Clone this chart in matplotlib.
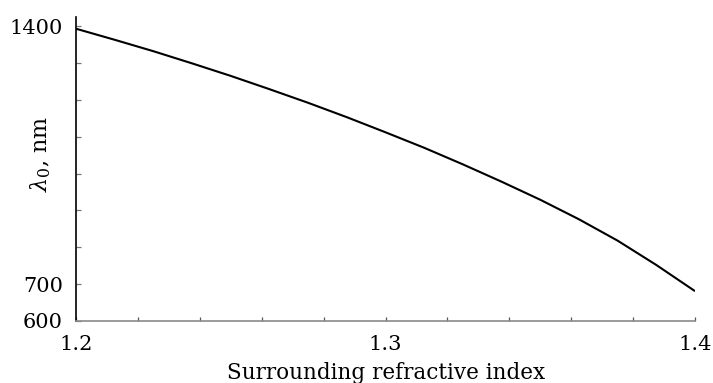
import matplotlib
matplotlib.use("Agg")
import matplotlib.pyplot as plt
from matplotlib.ticker import FixedLocator, NullFormatter

# Data
refr_index = [1.2, 1.2125, 1.225, 1.2375, 1.25, 1.2625, 1.275, 1.2875, 1.3,
              1.3125, 1.325, 1.3375, 1.35, 1.3625, 1.375, 1.3875, 1.4]
lambda0_nm = [1393, 1363, 1332, 1299, 1265, 1229, 1192, 1153, 1112,
              1070, 1025, 978, 929, 876, 818, 752, 681]

x_major = [1.2, 1.3, 1.4]
x_major_labels = ["1.2", "1.3", "1.4"]
x_minor = [1.22, 1.24, 1.26, 1.28, 1.32, 1.34, 1.36, 1.38]
y_major = [600, 700, 1400]
y_major_labels = ["600", "700", "1400"]
y_minor = [800, 900, 1000, 1100, 1200, 1300]

plt.rcParams['font.family'] = ['DejaVu Serif']
plt.rcParams['mathtext.fontset'] = 'dejavuserif'

W, H = 713, 383
fig = plt.figure(figsize=(W / 100, H / 100), dpi=100)
ax = fig.add_axes([76 / W, 1 - 321 / H, (695 - 76) / W, (321 - 17.3) / H])

ax.plot(refr_index, lambda0_nm, color='black', lw=1.5, solid_capstyle='butt')

ax.set_xlim(1.2, 1.4)
ax.set_ylim(600, 1424)

for s in ['top', 'right']:
    ax.spines[s].set_visible(False)
ax.spines['left'].set_color('black')
ax.spines['left'].set_linewidth(1.2)
ax.spines['bottom'].set_color('#8a8a8a')
ax.spines['bottom'].set_linewidth(1.2)

ax.xaxis.set_major_locator(FixedLocator(x_major))
ax.set_xticklabels(x_major_labels)
ax.xaxis.set_minor_locator(FixedLocator(x_minor))
ax.xaxis.set_minor_formatter(NullFormatter())
ax.yaxis.set_major_locator(FixedLocator(y_major))
ax.set_yticklabels(y_major_labels)
ax.yaxis.set_minor_locator(FixedLocator(y_minor))
ax.yaxis.set_minor_formatter(NullFormatter())

ax.tick_params(axis='x', which='both', direction='in', length=2.6, width=0.9,
               color='#555555', labelsize=15, pad=10.3)
ax.tick_params(axis='y', which='both', direction='in', length=3.6, width=0.9,
               color='#777777', labelsize=15, pad=9.4)

fig.text(386 / W, 1 - 373 / H, "Surrounding refractive index", ha='center',
         va='center', fontsize=15.5)
fig.text(41 / W, 1 - 154 / H, r"$\lambda_0$, nm", ha='center', va='center',
         rotation=90, fontsize=16)

fig.savefig("out.png", dpi=100)
